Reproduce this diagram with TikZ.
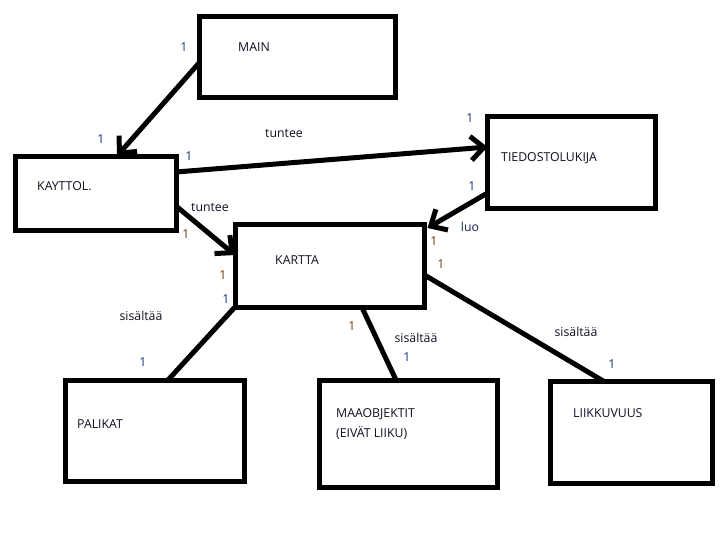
\documentclass[tikz,border=0pt]{standalone}
\usepackage{fontspec}
\setmainfont{Open Sans}
\usetikzlibrary{arrows.meta,calc}
\definecolor{oneblue}{RGB}{25,55,125}
\definecolor{onebrown}{RGB}{115,55,15}
\definecolor{txtcol}{RGB}{15,15,35}
\begin{document}
\begin{tikzpicture}[x=1pt,y=-1pt,
  box/.style={draw=black,line width=5pt,outer sep=0pt,inner sep=0pt,rectangle},
  boxtext/.style={anchor=west,inner sep=0pt,font=\fontsize{12.3pt}{20pt}\selectfont,text=txtcol,align=left},
  lbl/.style={inner sep=0pt,font=\fontsize{12.3pt}{14pt}\selectfont,text=txtcol},
  oneb/.style={lbl,text=oneblue},
  oner/.style={lbl,text=onebrown},
  conn/.style={draw=black,line width=5pt},
  arr/.style={conn,-{Straight Barb[length=13pt,width=24pt]}}]
\useasboundingbox (0,0) rectangle (727,555);
\fill[white] (0,0) rectangle (727,555);
% boxes
\node[box,minimum width=196pt,minimum height=81pt] (main) at (297,56.5) {};
\node[box,minimum width=161pt,minimum height=74pt] (kay) at (95.5,193) {};
\node[box,minimum width=168pt,minimum height=92pt] (tied) at (571.5,162.5) {};
\node[box,minimum width=189.5pt,minimum height=83pt] (kart) at (329.75,265.5) {};
\node[box,minimum width=179pt,minimum height=101pt] (pal) at (155,430.5) {};
\node[box,minimum width=178pt,minimum height=107pt] (maa) at (408.5,433.5) {};
\node[box,minimum width=161.5pt,minimum height=102pt] (lii) at (631.25,432) {};
% box texts
\node[boxtext] (tmain) at (238,47) {MAIN};
\node[boxtext] (tkay) at (37,186) {KAYTTOL.};
\node[boxtext] (ttied) at (501,158) {TIEDOSTOLUKIJA};
\node[boxtext] (tkart) at (275,260) {KARTTA};
\node[boxtext] (tpal) at (77,424) {PALIKAT};
\node[boxtext] (tmaa) at (336,424) {MAAOBJEKTIT\\(EIVÄT LIIKU)};
\node[boxtext] (tlii) at (573,413) {LIIKKUVUUS};
% connectors
\draw[arr] ([yshift=-6.5pt]main.west) -- ([xshift=21.5pt]kay.north);
\draw[arr] ([yshift=21pt]kay.east) -- ([yshift=15.5pt]tied.west);
\draw[arr] ([yshift=-13pt]kay.east) -- ([yshift=10.5pt]kart.west);
\draw[arr] ([yshift=-30.5pt]tied.west) -- ([xshift=3pt,yshift=-4pt]kart.north east);
\draw[conn] (kart.south west) -- ([xshift=13pt]pal.north);
\draw[conn] ([xshift=32pt]kart.south) -- ([xshift=-12.5pt]maa.north);
\draw[conn] ([yshift=-9.5pt]kart.east) -- ([xshift=-28pt]lii.north);
% labels
\node[oneb] (l1) at (184,47) {1};
\node[oneb] (l2) at (101,139) {1};
\node[oneb] (l3) at (189,156) {1};
\node[lbl] (l4) at (284,134) {tuntee};
\node[oneb] (l5) at (470,118) {1};
\node[lbl] (l6) at (210,207) {tuntee};
\node[oner] (l7) at (186,234) {1};
\node[oneb] (l8) at (472,186) {1};
\node[lbl,text=oneblue!60!txtcol] (l9) at (470,227) {luo};
\node[oner] (l10) at (434,241) {1};
\node[oner] (l11) at (441,264) {1};
\node[oner] (l12) at (223,275) {1};
\node[oneb] (l13) at (226,299) {1};
\node[lbl] (l14) at (141,316) {sisältää};
\node[oneb] (l15) at (143,362) {1};
\node[oner] (l16) at (352,326) {1};
\node[lbl] (l17) at (416,338) {sisältää};
\node[oneb] (l18) at (407,357) {1};
\node[lbl] (l19) at (576,332) {sisältää};
\node[oneb] (l20) at (612,364) {1};
\end{tikzpicture}
\end{document}
